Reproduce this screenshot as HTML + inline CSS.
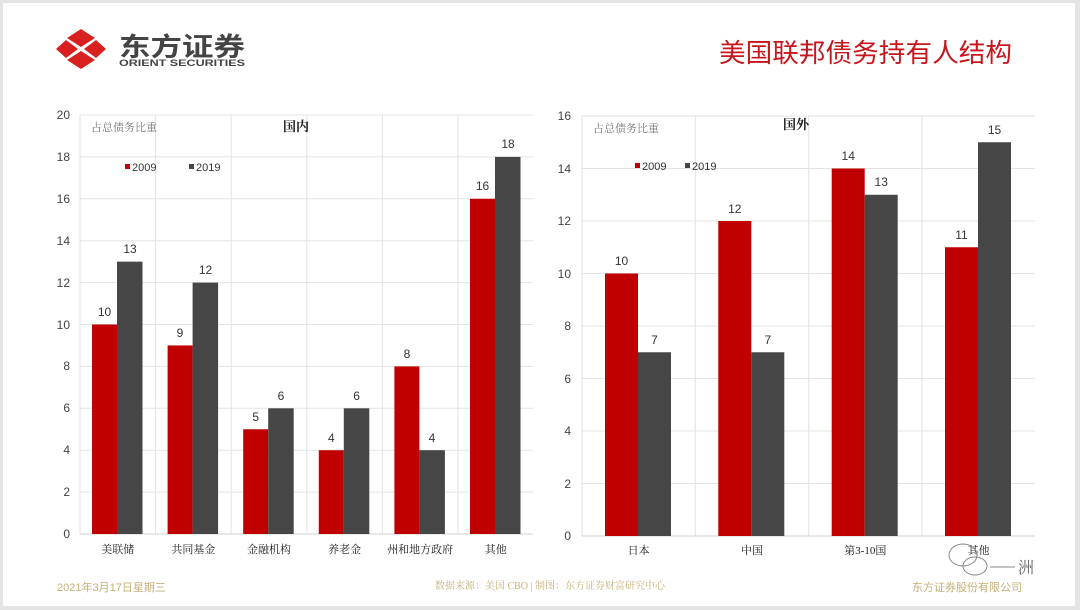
<!DOCTYPE html>
<html><head><meta charset="utf-8"><style>
html,body{margin:0;padding:0;background:#e6e6e6}
svg{display:block}
text{font-family:"Liberation Sans","Noto Sans CJK SC",sans-serif}
.s{font-family:"Liberation Serif","Noto Serif CJK SC",serif}
</style></head><body>
<svg width="1080" height="610" viewBox="0 0 1080 610" xmlns="http://www.w3.org/2000/svg">
<rect x="0" y="0" width="1080" height="610" fill="#e4e4e4"/>
<rect x="3" y="3" width="1072" height="603" fill="#fff"/>
<!-- logo -->
<g fill="#d7201f">
<polygon points="81,29 95,38 81,47 67,38"/>
<polygon points="81,51 95,60 81,69 67,60" />
<polygon points="56,49 66,40 78,49 66,58"/>
<polygon points="84,49 96,40 106,49 96,58"/>
</g>
<text x="119" y="56" font-size="26" font-weight="bold" fill="#444" font-family="'Noto Sans CJK SC',sans-serif" textLength="126" lengthAdjust="spacingAndGlyphs">东方证券</text>
<text x="119" y="66" font-size="9.5" font-weight="bold" fill="#444" textLength="126" lengthAdjust="spacingAndGlyphs">ORIENT SECURITIES</text>
<text x="719" y="62" font-size="26" fill="#c8161d" font-family="'Noto Sans CJK SC',sans-serif" textLength="293" lengthAdjust="spacingAndGlyphs">美国联邦债务持有人结构</text>

<!-- LEFT CHART -->
<g stroke="#e3e3e3" stroke-width="1">
<line x1="80" y1="115" x2="533" y2="115"/><line x1="80" y1="156.9" x2="533" y2="156.9"/><line x1="80" y1="198.8" x2="533" y2="198.8"/><line x1="80" y1="240.7" x2="533" y2="240.7"/><line x1="80" y1="282.6" x2="533" y2="282.6"/><line x1="80" y1="324.5" x2="533" y2="324.5"/><line x1="80" y1="366.4" x2="533" y2="366.4"/><line x1="80" y1="408.3" x2="533" y2="408.3"/><line x1="80" y1="450.2" x2="533" y2="450.2"/><line x1="80" y1="492.1" x2="533" y2="492.1"/>
<line x1="80" y1="115" x2="80" y2="534"/><line x1="155.6" y1="115" x2="155.6" y2="534"/><line x1="231.2" y1="115" x2="231.2" y2="534"/><line x1="306.8" y1="115" x2="306.8" y2="534"/><line x1="382.4" y1="115" x2="382.4" y2="534"/><line x1="458" y1="115" x2="458" y2="534"/>
</g>
<line x1="80" y1="534" x2="533" y2="534" stroke="#d0d0d0"/>
<g font-size="12" fill="#444" text-anchor="end">
<text x="70" y="119">20</text><text x="70" y="161">18</text><text x="70" y="203">16</text><text x="70" y="245">14</text><text x="70" y="287">12</text><text x="70" y="329">10</text><text x="70" y="370">8</text><text x="70" y="412">6</text><text x="70" y="454">4</text><text x="70" y="496">2</text><text x="70" y="538">0</text>
</g>
<g fill="#c00000">
<rect x="92" y="324.5" width="25" height="209.5"/><rect x="167.6" y="345.45" width="25" height="188.55"/><rect x="243.2" y="429.25" width="25" height="104.75"/><rect x="318.8" y="450.2" width="25" height="83.8"/><rect x="394.4" y="366.4" width="25" height="167.6"/><rect x="470" y="198.8" width="25" height="335.2"/>
</g>
<g fill="#464646">
<rect x="117" y="261.65" width="25.5" height="272.35"/><rect x="192.6" y="282.6" width="25.5" height="251.4"/><rect x="268.2" y="408.3" width="25.5" height="125.7"/><rect x="343.8" y="408.3" width="25.5" height="125.7"/><rect x="419.4" y="450.2" width="25.5" height="83.8"/><rect x="495" y="156.9" width="25.5" height="377.1"/>
</g>
<g font-size="12" fill="#333" text-anchor="middle">
<text x="104.5" y="316">10</text><text x="130" y="253">13</text>
<text x="180" y="337">9</text><text x="205.5" y="274">12</text>
<text x="255.7" y="421">5</text><text x="281" y="400">6</text>
<text x="331.3" y="442">4</text><text x="356.6" y="400">6</text>
<text x="407" y="358">8</text><text x="432" y="442">4</text>
<text x="482.5" y="190">16</text><text x="508" y="148">18</text>
</g>
<g font-size="11" fill="#222" text-anchor="middle">
<text x="117.8" y="553" class="s">美联储</text><text x="193.4" y="553" class="s">共同基金</text><text x="269" y="553" class="s">金融机构</text><text x="344.6" y="553" class="s">养老金</text><text x="420.2" y="553" class="s">州和地方政府</text><text x="495.8" y="553" class="s">其他</text>
</g>
<text x="91" y="131" font-size="11" fill="#777" class="s">占总债务比重</text>
<text x="296" y="131" font-size="13" font-weight="bold" fill="#222" text-anchor="middle" class="s">国内</text>
<rect x="125" y="164" width="5" height="5" fill="#c00000"/><text x="132" y="171" font-size="11" fill="#333">2009</text>
<rect x="189" y="164" width="5" height="5" fill="#464646"/><text x="196" y="171" font-size="11" fill="#333">2019</text>

<!-- RIGHT CHART -->
<g stroke="#e3e3e3" stroke-width="1">
<line x1="582" y1="116" x2="1035" y2="116"/><line x1="582" y1="168.5" x2="1035" y2="168.5"/><line x1="582" y1="221" x2="1035" y2="221"/><line x1="582" y1="273.5" x2="1035" y2="273.5"/><line x1="582" y1="326" x2="1035" y2="326"/><line x1="582" y1="378.5" x2="1035" y2="378.5"/><line x1="582" y1="431" x2="1035" y2="431"/><line x1="582" y1="483.5" x2="1035" y2="483.5"/>
<line x1="582" y1="116" x2="582" y2="536"/><line x1="695.3" y1="116" x2="695.3" y2="536"/><line x1="808.7" y1="116" x2="808.7" y2="536"/><line x1="922" y1="116" x2="922" y2="536"/>
</g>
<line x1="582" y1="536" x2="1035" y2="536" stroke="#d0d0d0"/>
<g font-size="12" fill="#444" text-anchor="end">
<text x="571" y="120">16</text><text x="571" y="173">14</text><text x="571" y="225">12</text><text x="571" y="278">10</text><text x="571" y="330">8</text><text x="571" y="383">6</text><text x="571" y="435">4</text><text x="571" y="488">2</text><text x="571" y="540">0</text>
</g>
<g fill="#c00000">
<rect x="605" y="273.5" width="33" height="262.5"/><rect x="718.3" y="221" width="33" height="315"/><rect x="831.7" y="168.5" width="33" height="367.5"/><rect x="945" y="247.25" width="33" height="288.75"/>
</g>
<g fill="#464646">
<rect x="638" y="352.25" width="33" height="183.75"/><rect x="751.3" y="352.25" width="33" height="183.75"/><rect x="864.7" y="194.75" width="33" height="341.25"/><rect x="978" y="142.25" width="33" height="393.75"/>
</g>
<g font-size="12" fill="#333" text-anchor="middle">
<text x="621.5" y="265">10</text><text x="654.5" y="344">7</text>
<text x="734.8" y="213">12</text><text x="767.8" y="344">7</text>
<text x="848.2" y="160">14</text><text x="881.2" y="186">13</text>
<text x="961.5" y="239">11</text><text x="994.5" y="134">15</text>
</g>
<g font-size="11" fill="#222" text-anchor="middle">
<text x="638.6" y="554" class="s">日本</text><text x="752" y="554" class="s">中国</text><text x="865.3" y="554" class="s">第3-10国</text><text x="978.6" y="554" class="s">其他</text>
</g>
<text x="593" y="132" font-size="11" fill="#777" class="s">占总债务比重</text>
<text x="796" y="129" font-size="13" font-weight="bold" fill="#222" text-anchor="middle" class="s">国外</text>
<rect x="635" y="163" width="5" height="5" fill="#c00000"/><text x="642" y="170" font-size="11" fill="#333">2009</text>
<rect x="685" y="163" width="5" height="5" fill="#464646"/><text x="692" y="170" font-size="11" fill="#333">2019</text>

<!-- watermark -->
<g fill="none" stroke="#888" stroke-width="1">
<ellipse cx="963" cy="555" rx="14" ry="11"/><ellipse cx="975" cy="566" rx="12" ry="9"/>
<line x1="990" y1="567" x2="1015" y2="567"/>
</g>
<text x="1018" y="573" font-size="16" fill="#666" class="s">洲</text>

<!-- footer -->
<text x="57" y="591" font-size="11" fill="#c4b07a">2021年3月17日星期三</text>
<text x="550" y="589" font-size="10" fill="#c4b07a" text-anchor="middle" class="s">数据来源：美国 CBO | 制图：东方证券财富研究中心</text>
<text x="1022" y="591" font-size="11" fill="#c4b07a" text-anchor="end">东方证券股份有限公司</text>
</svg>
</body></html>
